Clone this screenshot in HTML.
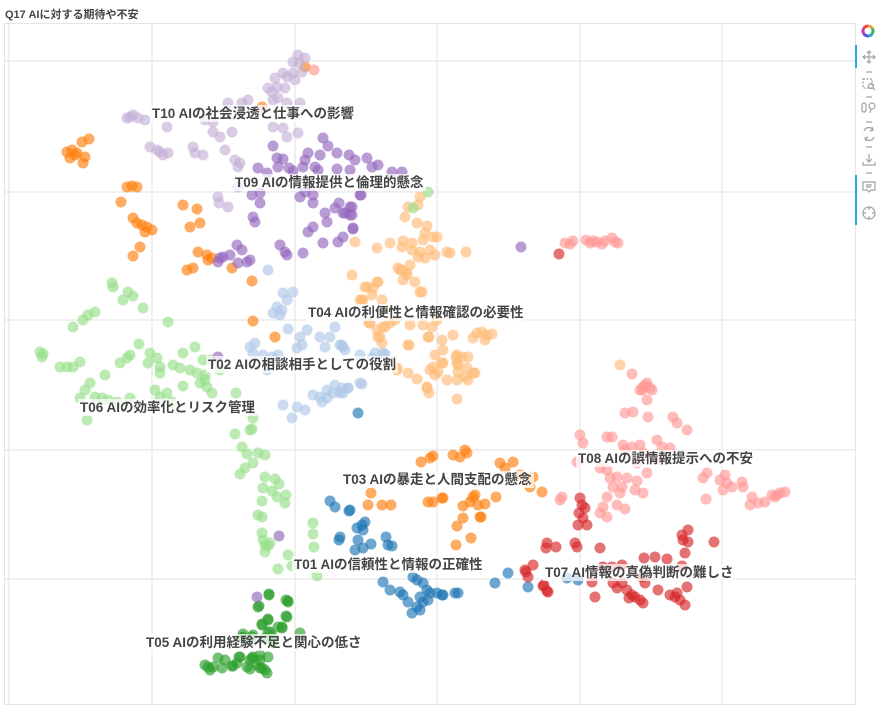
<!DOCTYPE html>
<html><head><meta charset="utf-8">
<style>
html,body{margin:0;padding:0;background:#fff;}
body{width:881px;height:709px;position:relative;overflow:hidden;font-family:"Liberation Sans","Noto Sans CJK JP",sans-serif;}
.title{position:absolute;left:5px;top:6px;font-size:11px;font-weight:bold;color:#444;white-space:nowrap;}
.lb{position:absolute;font-size:13.5px;font-weight:bold;color:#444;background:rgba(255,255,255,0.72);line-height:17px;padding:0 2px;white-space:nowrap;}
svg{position:absolute;left:0;top:0;}
</style></head><body>
<svg width="881" height="709" viewBox="0 0 881 709">
<rect x="4.5" y="23.5" width="851" height="681" fill="#fff" stroke="#e5e5e5" stroke-width="1"/>
<g stroke="#ebebeb" stroke-width="1.5">
<line x1="9" y1="24" x2="9" y2="704"/><line x1="152" y1="24" x2="152" y2="704"/><line x1="295" y1="24" x2="295" y2="704"/><line x1="437" y1="24" x2="437" y2="704"/><line x1="580" y1="24" x2="580" y2="704"/><line x1="722" y1="24" x2="722" y2="704"/>
<line x1="5" y1="61" x2="855" y2="61"/><line x1="5" y1="192" x2="855" y2="192"/><line x1="5" y1="320" x2="855" y2="320"/><line x1="5" y1="450" x2="855" y2="450"/><line x1="5" y1="579" x2="855" y2="579"/>
</g>
<g id="pts" fill-opacity="0.65"></g>
<!-- toolbar -->
<g>
<path d="M868 26 A5 5 0 0 1 872.3 28.5" fill="none" stroke="#e8a13a" stroke-width="3"/>
<path d="M872.3 28.5 A5 5 0 0 1 872.3 33.5" fill="none" stroke="#3cb34a" stroke-width="3"/>
<path d="M872.3 33.5 A5 5 0 0 1 868 36" fill="none" stroke="#2f9fd6" stroke-width="3"/>
<path d="M868 36 A5 5 0 0 1 863.7 33.5" fill="none" stroke="#5a4fcf" stroke-width="3"/>
<path d="M863.7 33.5 A5 5 0 0 1 863.7 28.5" fill="none" stroke="#c23bb0" stroke-width="3"/>
<path d="M863.7 28.5 A5 5 0 0 1 868 26" fill="none" stroke="#e84a3a" stroke-width="3"/>
<rect x="855" y="45" width="2" height="23" fill="#26aae1"/>
<rect x="855" y="175" width="2" height="50" fill="#26aae1"/>
<g stroke="#a0a0a0" stroke-width="1.2" fill="none">
<path d="M869 51 V63 M863 57 H875 M867 53 L869 51 L871 53 M867 61 L869 63 L871 61 M865 55 L863 57 L865 59 M873 55 L875 57 L873 59"/>
<line x1="866" y1="72" x2="872" y2="72"/>
<rect x="863" y="79" width="9" height="9" stroke-dasharray="2 1.5"/>
<circle cx="871" cy="86" r="2.5"/><line x1="873" y1="88" x2="875" y2="90"/>
<line x1="866" y1="97" x2="872" y2="97"/>
<rect x="862" y="103" width="4" height="9" rx="2"/><circle cx="872" cy="106" r="3"/><line x1="871" y1="109" x2="870" y2="113"/>
<line x1="866" y1="122" x2="872" y2="122"/>
<path d="M864 131 A5 5 0 0 1 873 130 M874 137 A5 5 0 0 1 865 138 M872 127 L873 130 L870 131 M866 141 L865 138 L868 137"/>
<line x1="866" y1="147" x2="872" y2="147"/>
<path d="M869 154 V162 M866 159 L869 162 L872 159 M863 162 V165 H875 V162"/>
<line x1="866" y1="173" x2="872" y2="173"/>
<path d="M863 182 H875 V190 H871 L869 192 L867 190 H863 Z M866 185 H872 M866 187 H871"/>
<circle cx="869" cy="213" r="6"/><path d="M869 207 V210 M869 216 V219 M863 213 H866 M872 213 H875"/>
</g>
</g>
</svg>
<div class="title">Q17 AIに対する期待や不安</div>
<div class="lb" style="left:150px;top:105px;">T10 AIの社会浸透と仕事への影響</div>
<div class="lb" style="left:233px;top:174px;">T09 AIの情報提供と倫理的懸念</div>
<div class="lb" style="left:306px;top:304px;">T04 AIの利便性と情報確認の必要性</div>
<div class="lb" style="left:206px;top:356px;">T02 AIの相談相手としての役割</div>
<div class="lb" style="left:78px;top:399px;">T06 AIの効率化とリスク管理</div>
<div class="lb" style="left:341px;top:471px;">T03 AIの暴走と人間支配の懸念</div>
<div class="lb" style="left:576px;top:450px;">T08 AIの誤情報提示への不安</div>
<div class="lb" style="left:292px;top:556px;">T01 AIの信頼性と情報の正確性</div>
<div class="lb" style="left:543px;top:564px;">T07 AI情報の真偽判断の難しさ</div>
<div class="lb" style="left:144px;top:634px;">T05 AIの利用経験不足と関心の低さ</div>
<script>
var D=[
["#1f77b4","358,413 330,501 335,507 349,511 365,522 357,528 363,530 340,537 339,540 358,540 371,544 363,548 355,550 386,537 388,545 392,546 508,573 495,583 528,587 383,582 390,590 400,592 408,602 413,577 417,580 423,583 427,590 430,593 437,593 442,595 455,593 458,593 420,597 423,602 417,607 412,613 420,610 428,600 403,595 567,578 578,580 443,595 350,510 362,525"],
["#aec7e8","268,270 283,293 293,292 287,300 277,307 273,313 282,310 280,315 288,329 307,330 300,337 335,327 320,337 330,337 325,347 340,345 343,347 250,347 255,343 253,353 263,355 272,357 278,355 297,348 302,345 360,355 375,353 383,353 267,370 335,385 327,390 342,388 348,388 360,383 313,395 320,397 327,398 333,393 340,393 322,402 283,405 297,407 305,410 292,418 342,345 372,358 362,384 348,388 343,393 385,354 345,350"],
["#ff7f0e","82,142 89,139 67,152 72,150 75,155 70,158 85,157 83,163 77,153 305,67 262,107 127,187 132,186 137,187 121,202 183,205 197,209 133,218 137,223 142,225 147,227 152,230 145,232 190,227 200,223 140,247 133,256 198,252 207,255 208,260 212,258 187,270 193,268 232,268 252,281 253,321 275,337 421,462 430,458 433,456 453,455 460,457 465,450 467,453 500,463 513,462 505,468 520,475 533,477 530,487 542,492 371,493 368,505 382,505 391,505 428,502 433,502 442,498 443,498 463,506 470,502 475,495 478,505 485,504 496,497 463,518 457,526 480,517 471,538 456,545 481,517 473,497"],
["#ffbb78","420,197 408,207 418,205 405,217 417,223 427,226 425,233 433,237 355,242 390,243 377,248 403,241 412,243 423,240 437,237 402,247 412,250 420,252 430,250 435,255 425,258 418,257 447,252 450,253 466,252 410,265 402,270 398,268 407,273 403,280 415,282 422,292 352,275 377,282 365,287 373,288 372,295 382,300 362,300 367,287 363,300 378,282 400,270 407,275 420,292 369,323 377,330 383,327 390,323 378,337 382,343 410,325 423,325 432,327 437,320 429,337 409,345 442,340 453,335 443,350 435,355 457,355 462,357 468,357 442,363 430,370 438,372 457,363 467,368 475,373 458,372 465,377 468,380 447,380 457,380 408,373 417,379 397,368 427,388 429,393 457,399 477,333 482,332 487,335 492,334 485,340 473,338 370,323 385,327 380,337 428,337 408,345 435,375 433,367 397,370 427,387 456,357 443,363 458,365 473,373 620,365 360,300 385,310 395,320"],
["#2ca02c","269,595 288,602 286,600 258,607 286,616 268,619 262,625 278,627 282,628 270,632 272,636 300,633 243,634 242,638 252,637 265,638 273,640 205,665 208,667 213,667 222,668 232,666 239,657 237,663 247,667 250,660 253,657 257,665 260,668 265,670 260,660 250,669 225,660 218,658 233,666 240,657 252,658 260,655 268,657 262,668 267,673 210,670 243,637 253,635 268,632 282,627 287,617 268,620 262,624 259,606 269,594 288,601 273,643"],
["#98df8a","428,192 413,208 112,283 113,287 128,292 133,296 123,300 143,308 95,312 88,315 83,320 73,327 168,322 40,352 43,354 42,357 60,367 67,367 73,367 80,362 139,344 130,355 127,358 120,363 150,353 157,358 148,363 160,367 160,373 173,365 183,353 195,347 180,368 190,370 197,373 203,360 200,383 207,387 205,380 212,393 183,386 105,375 90,383 85,390 80,398 95,397 102,398 117,402 130,398 108,400 155,390 167,393 160,397 172,402 87,420 236,393 253,418 250,430 235,434 242,447 252,429 247,454 258,453 265,455 253,463 245,468 240,474 265,477 275,479 279,484 263,488 272,491 277,497 286,495 285,503 262,501 258,515 262,517 262,533 263,540 265,545 268,546 270,543 265,552 288,555 278,569 292,566 317,576 313,523 313,534 314,547 210,360 220,370 205,375"],
["#d62728","559,254 580,498 582,505 585,508 579,513 583,518 578,525 587,525 688,530 682,535 683,540 688,542 685,553 714,542 547,543 556,547 546,548 575,543 577,547 600,548 644,558 655,557 667,559 682,566 525,570 533,565 528,577 603,567 612,567 622,565 544,585 547,591 592,582 613,583 617,588 622,583 627,590 632,595 629,598 635,597 595,597 640,600 643,603 645,583 658,590 670,595 677,593 680,600 685,605 687,587 675,597 642,577 543,586 548,592 526,572"],
["#ff9896","314,70 565,243 570,244 573,241 586,240 590,243 593,241 597,242 602,244 605,241 612,238 615,242 618,243 632,374 647,383 642,390 650,388 645,385 652,390 647,400 625,413 633,412 648,417 673,417 677,423 687,430 580,435 583,443 607,437 612,437 623,445 632,447 640,445 657,440 662,447 670,448 625,450 643,453 650,457 660,460 577,462 600,468 607,470 637,463 647,473 610,478 617,477 627,478 637,481 613,487 622,487 635,490 643,493 620,493 607,497 603,507 617,505 625,509 560,500 562,497 600,513 607,517 707,473 703,478 720,480 725,475 727,483 732,487 742,482 743,487 752,497 750,505 758,503 765,502 772,495 777,495 780,493 785,492 775,497 706,499 723,490 640,390 643,387"],
["#9467bd","323,138 328,146 273,146 320,155 308,153 337,153 349,155 277,158 283,159 278,167 289,168 293,171 305,160 303,167 315,167 318,170 367,158 372,167 378,165 355,160 258,168 267,173 337,169 350,170 392,172 402,172 252,195 260,193 260,203 300,197 313,195 305,192 313,203 360,195 325,213 335,208 339,203 345,213 350,215 352,207 327,222 353,228 343,237 338,242 323,243 253,217 255,222 313,227 308,232 280,245 285,252 303,253 237,245 242,250 247,262 250,260 220,258 223,257 230,255 238,263 218,262 287,255 361,195 350,207 343,213 352,215 353,229 521,247 218,357 279,536 257,597"],
["#c5b0d5","298,55 305,58 293,62 299,63 283,73 293,73 302,72 275,78 287,77 295,80 268,88 277,87 285,88 272,92 228,103 242,103 248,100 273,100 278,98 287,103 300,103 260,110 130,117 133,115 138,118 145,120 127,118 205,120 213,122 167,127 273,127 283,128 298,133 287,137 213,132 220,137 232,132 150,147 157,150 163,155 168,153 160,152 193,147 195,153 203,155 225,150 235,160 240,163 238,167 218,197 219,203 228,207 238,187"]
];
var g=document.getElementById("pts"),ns="http://www.w3.org/2000/svg";
D.forEach(function(s){s[1].split(" ").forEach(function(p){var a=p.split(","),c=document.createElementNS(ns,"circle");c.setAttribute("cx",a[0]);c.setAttribute("cy",a[1]);c.setAttribute("r","5.5");c.setAttribute("fill",s[0]);g.appendChild(c);});});
</script>
</body></html>
